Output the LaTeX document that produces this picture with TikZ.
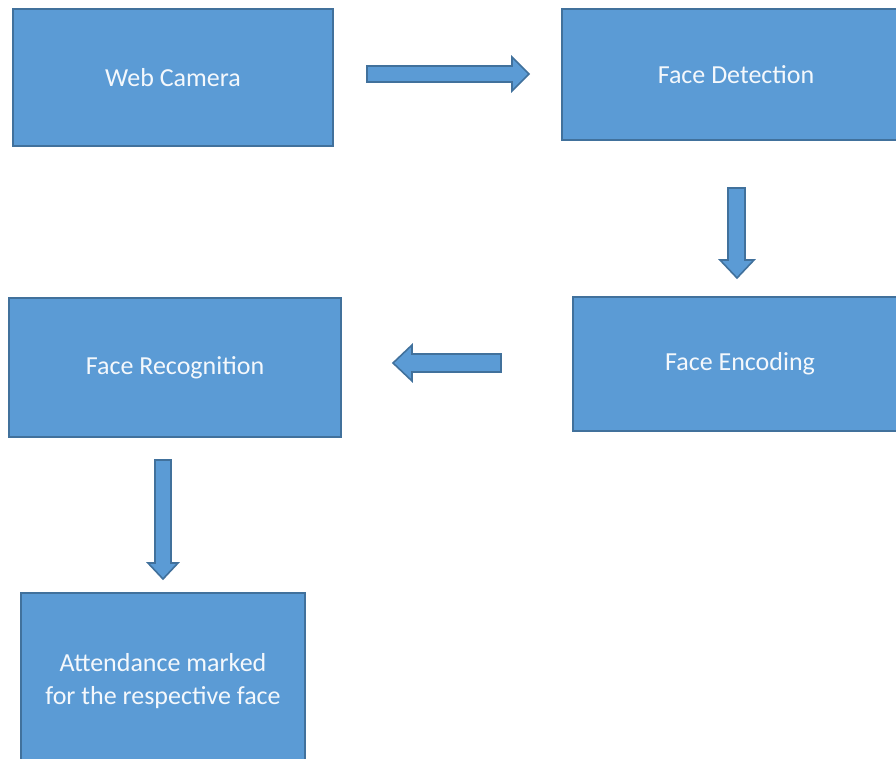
\documentclass[tikz,border=0pt]{standalone}
\usepackage{fontspec}
\setmainfont{Carlito}
\definecolor{boxfill}{HTML}{5B9BD5}
\definecolor{boxline}{HTML}{41719C}
\definecolor{boxtext}{HTML}{F4F8FC}
\tikzset{
  stepbox/.style={rectangle, fill=boxfill, draw=boxline, line width=2pt,
    text=boxtext, font=\fontsize{26}{33}\selectfont, align=center, inner sep=0pt},
  blockarrow/.style={fill=boxfill, draw=boxline, line width=1.6pt, line join=miter}
}
\begin{document}
\begin{tikzpicture}[x=1pt,y=-1pt]
\useasboundingbox (0,0) rectangle (896,758);
\fill[white] (0,0) rectangle (896,758);
\clip (0,0) rectangle (896,758);
\node[stepbox, minimum width=320pt, minimum height=137pt] (cam) at (173,77.5) {Web Camera};
\node[stepbox, minimum width=348pt, minimum height=131pt] (det) at (736,74.5) {Face Detection};
\node[stepbox, minimum width=334pt, minimum height=134pt] (enc) at (740,364) {Face Encoding};
\node[stepbox, minimum width=332pt, minimum height=139pt] (rec) at (175,367.5) {Face Recognition};
\node[stepbox, minimum width=284pt, minimum height=176pt] (att) at (163,681) {Attendance marked\\for the respective face};
% block arrows
\draw[blockarrow] (367,66)--(512,66)--(512,57)--(529,74)--(512,91)--(512,82)--(367,82)--cycle;
\draw[blockarrow] (728,188)--(745,188)--(745,260)--(754,260)--(737,278)--(720,260)--(728,260)--cycle;
\draw[blockarrow] (501,354)--(412,354)--(412,345)--(393,363)--(412,381)--(412,372)--(501,372)--cycle;
\draw[blockarrow] (155,460)--(171,460)--(171,563)--(178,563)--(163,579)--(148,563)--(155,563)--cycle;
\end{tikzpicture}
\end{document}
